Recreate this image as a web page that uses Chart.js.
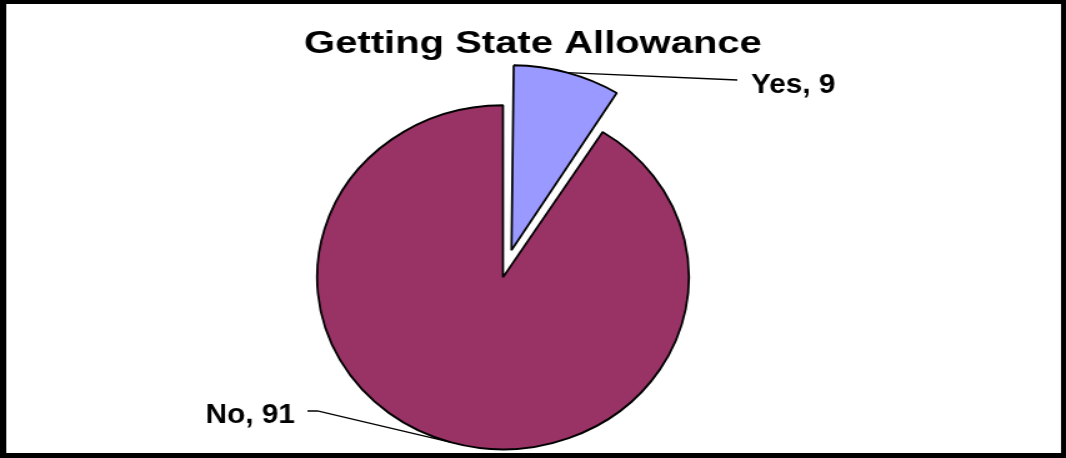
<!DOCTYPE html>
<html>
<head>
<meta charset="utf-8">
<title>Getting State Allowance</title>
<script src="https://cdn.jsdelivr.net/npm/chart.js"></script>
<style>
  body { margin: 0; background: #fff; }
  /* the reference is stretched sideways, so the whole canvas is too */
  #myChart { display: block; transform: scaleX(1.2497); transform-origin: 0 0; }
</style>
</head>
<body>
<canvas id="myChart" width="853" height="458" style="width:853px;height:458px"></canvas>
<script>
//Getting State Allowance pie

const labels = ['Yes', 'No'];
const counts = [9, 91];
const colors = ['#9999FF', '#993366'];
const explode = [112, 0];
const chartTitle = 'Getting State Allowance';

// pie is a bit narrower than the stretch, squash it back
// and sit it left of the title centre
const pieSquash = 0.865;
const pieShiftX = -24;

const squashPie = {
    id: 'squashPie',
    beforeDatasetsDraw(chart) {
        const arc = chart.getDatasetMeta(0).data[0];
        const ctx = chart.ctx;
        ctx.save();
        ctx.translate(arc.x + pieShiftX, 0);
        ctx.scale(pieSquash, 1);
        ctx.translate(-arc.x, 0);
    },
    afterDatasetsDraw(chart) {
        chart.ctx.restore();
    }
};

// label spots: text start, baseline, and where the leader meets the text
const labelSpots = [
    { x: 601, y: 93, align: 'left', lineEnd: [590, 80] },
    { x: 236, y: 423, align: 'right', lineEnd: [246, 411], knee: [254, 411] }
];

const pieLabels = {
    id: 'pieLabels',
    afterDatasetsDraw(chart) {
        const ctx = chart.ctx;
        const arcs = chart.getDatasetMeta(0).data;
        arcs.forEach((arc, i) => {
            const spot = labelSpots[i];
            const mid = (arc.startAngle + arc.endAngle) / 2;
            // same shift and radius growth the arc element uses for offset
            const shift = (arc.options.offset || 0) / 4;
            const fix = 1 - Math.sin(Math.min(Math.PI, arc.circumference || 0));
            const r = arc.outerRadius + shift * fix;
            const cx = arc.x + Math.cos(mid) * shift;
            const cy = arc.y + Math.sin(mid) * shift;
            const ax = arc.x + pieShiftX + (cx + Math.cos(mid) * r - arc.x) * pieSquash;
            const ay = cy + Math.sin(mid) * r;

            ctx.save();
            ctx.strokeStyle = '#000';
            ctx.lineWidth = 1.3;
            ctx.beginPath();
            ctx.moveTo(ax, ay);
            if (spot.knee) ctx.lineTo(spot.knee[0], spot.knee[1]);
            ctx.lineTo(spot.lineEnd[0], spot.lineEnd[1]);
            ctx.stroke();

            ctx.translate(spot.x, spot.y);
            ctx.scale(0.85, 1);
            ctx.fillStyle = '#000';
            ctx.font = 'bold 28px "Liberation Sans", Arial, sans-serif';
            ctx.textAlign = spot.align;
            ctx.textBaseline = 'alphabetic';
            ctx.fillText(labels[i] + ', ' + counts[i], 0, 0);
            ctx.restore();
        });
    }
};

const frame = {
    id: 'frame',
    afterDraw(chart) {
        const ctx = chart.ctx;
        const w = chart.width, h = chart.height;
        ctx.save();
        ctx.fillStyle = '#000';
        ctx.fillRect(0, 0, w, 4);
        ctx.fillRect(0, h - 5, w, 5);
        ctx.fillRect(0, 0, 5, h);
        ctx.fillRect(w - 4, 0, 4, h);
        ctx.restore();
    }
};

const data = {
    labels: labels,
    datasets: [{
        data: counts,
        backgroundColor: colors,
        borderColor: '#000',
        borderWidth: 2,
        offset: explode
    }]
};

const config = {
    type: 'pie',
    data: data,
    options: {
        responsive: false,
        devicePixelRatio: 1,
        animation: false,
        events: [],
        radius: 172,
        layout: {
            padding: 0
        },
        plugins: {
            legend: { display: false },
            tooltip: { enabled: false },
            title: {
                display: true,
                text: chartTitle,
                color: '#000',
                font: { family: '"Liberation Sans", Arial, sans-serif', size: 32, weight: 'bold' },
                padding: { top: 25, bottom: 33 }
            }
        }
    },
    plugins: [squashPie, pieLabels, frame]
};

const myChart = new Chart(
    document.getElementById('myChart'),
    config
);
</script>
</body>
</html>
